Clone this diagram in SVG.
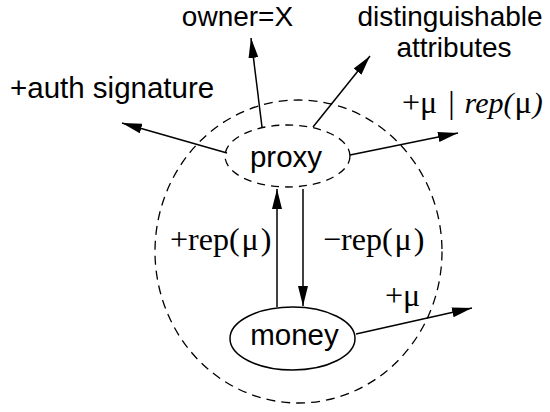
<svg xmlns="http://www.w3.org/2000/svg" width="550" height="412" viewBox="0 0 550 412">
<style>
.sans{font-family:"Liberation Sans",Arial,Helvetica,sans-serif;font-size:29.5px;fill:#000}
.top{font-size:28px}
.serif{font-family:"Liberation Serif","Times New Roman",serif;font-size:32px;fill:#000}
.it{font-style:italic;font-size:30px}
.dash{fill:none;stroke:#000;stroke-width:1.3;stroke-dasharray:9 6}
.node{fill:#fff;stroke:#000;stroke-width:1.5}
.edge{fill:none;stroke:#000;stroke-width:1.5;marker-end:url(#ah)}
</style>
<defs>
<marker id="ah" markerUnits="userSpaceOnUse" markerWidth="20" markerHeight="10" refX="20" refY="5" orient="auto" viewBox="0 0 20 10">
<path d="M0,0 L20,5 L0,10 z" fill="#000"/>
</marker>
</defs>
<rect width="550" height="412" fill="#fff"/>
<g id="boundary">
<ellipse class="dash" cx="298.5" cy="251.5" rx="143.5" ry="151.5"/>
</g>
<g id="connectors">
<line class="edge" x1="227" y1="153" x2="122" y2="123"/>
<line class="edge" x1="262" y1="127" x2="251" y2="38"/>
<line class="edge" x1="313" y1="127" x2="370" y2="56"/>
<line class="edge" x1="350" y1="155" x2="458" y2="133"/>
<line class="edge" x1="277" y1="307" x2="277" y2="189"/>
<line class="edge" x1="303" y1="189" x2="303" y2="306"/>
<line class="edge" x1="356" y1="334" x2="472" y2="308"/>
</g>
<g id="proxy">
<ellipse class="dash" cx="287.5" cy="156" rx="62.5" ry="31" style="stroke-dasharray:8 6"/>
<text class="sans" x="286" y="167" text-anchor="middle">proxy</text>
</g>
<g id="money">
<ellipse class="node" cx="292.5" cy="338.5" rx="62.5" ry="31.5"/>
<text class="sans" x="294.5" y="345" text-anchor="middle">money</text>
</g>
<g id="labels">
<text class="sans top" x="237.5" y="25.5" text-anchor="middle">owner=X</text>
<text class="sans top" x="450" y="25.5" text-anchor="middle">distinguishable</text>
<text class="sans top" x="454" y="57" text-anchor="middle">attributes</text>
<text class="sans" x="10" y="98">+auth signature</text>
<text class="serif" x="402" y="113">+μ <tspan dx="3">|</tspan><tspan class="it" dx="10">rep(</tspan><tspan dx="1">μ</tspan><tspan class="it" dx="1">)</tspan></text>
<text class="serif" x="170" y="250">+rep(<tspan dx="2">μ</tspan><tspan dx="2">)</tspan></text>
<text class="serif" x="323" y="250">−rep(<tspan dx="2">μ</tspan><tspan dx="2">)</tspan></text>
<text class="serif" x="385" y="306">+μ</text>
</g>
</svg>
